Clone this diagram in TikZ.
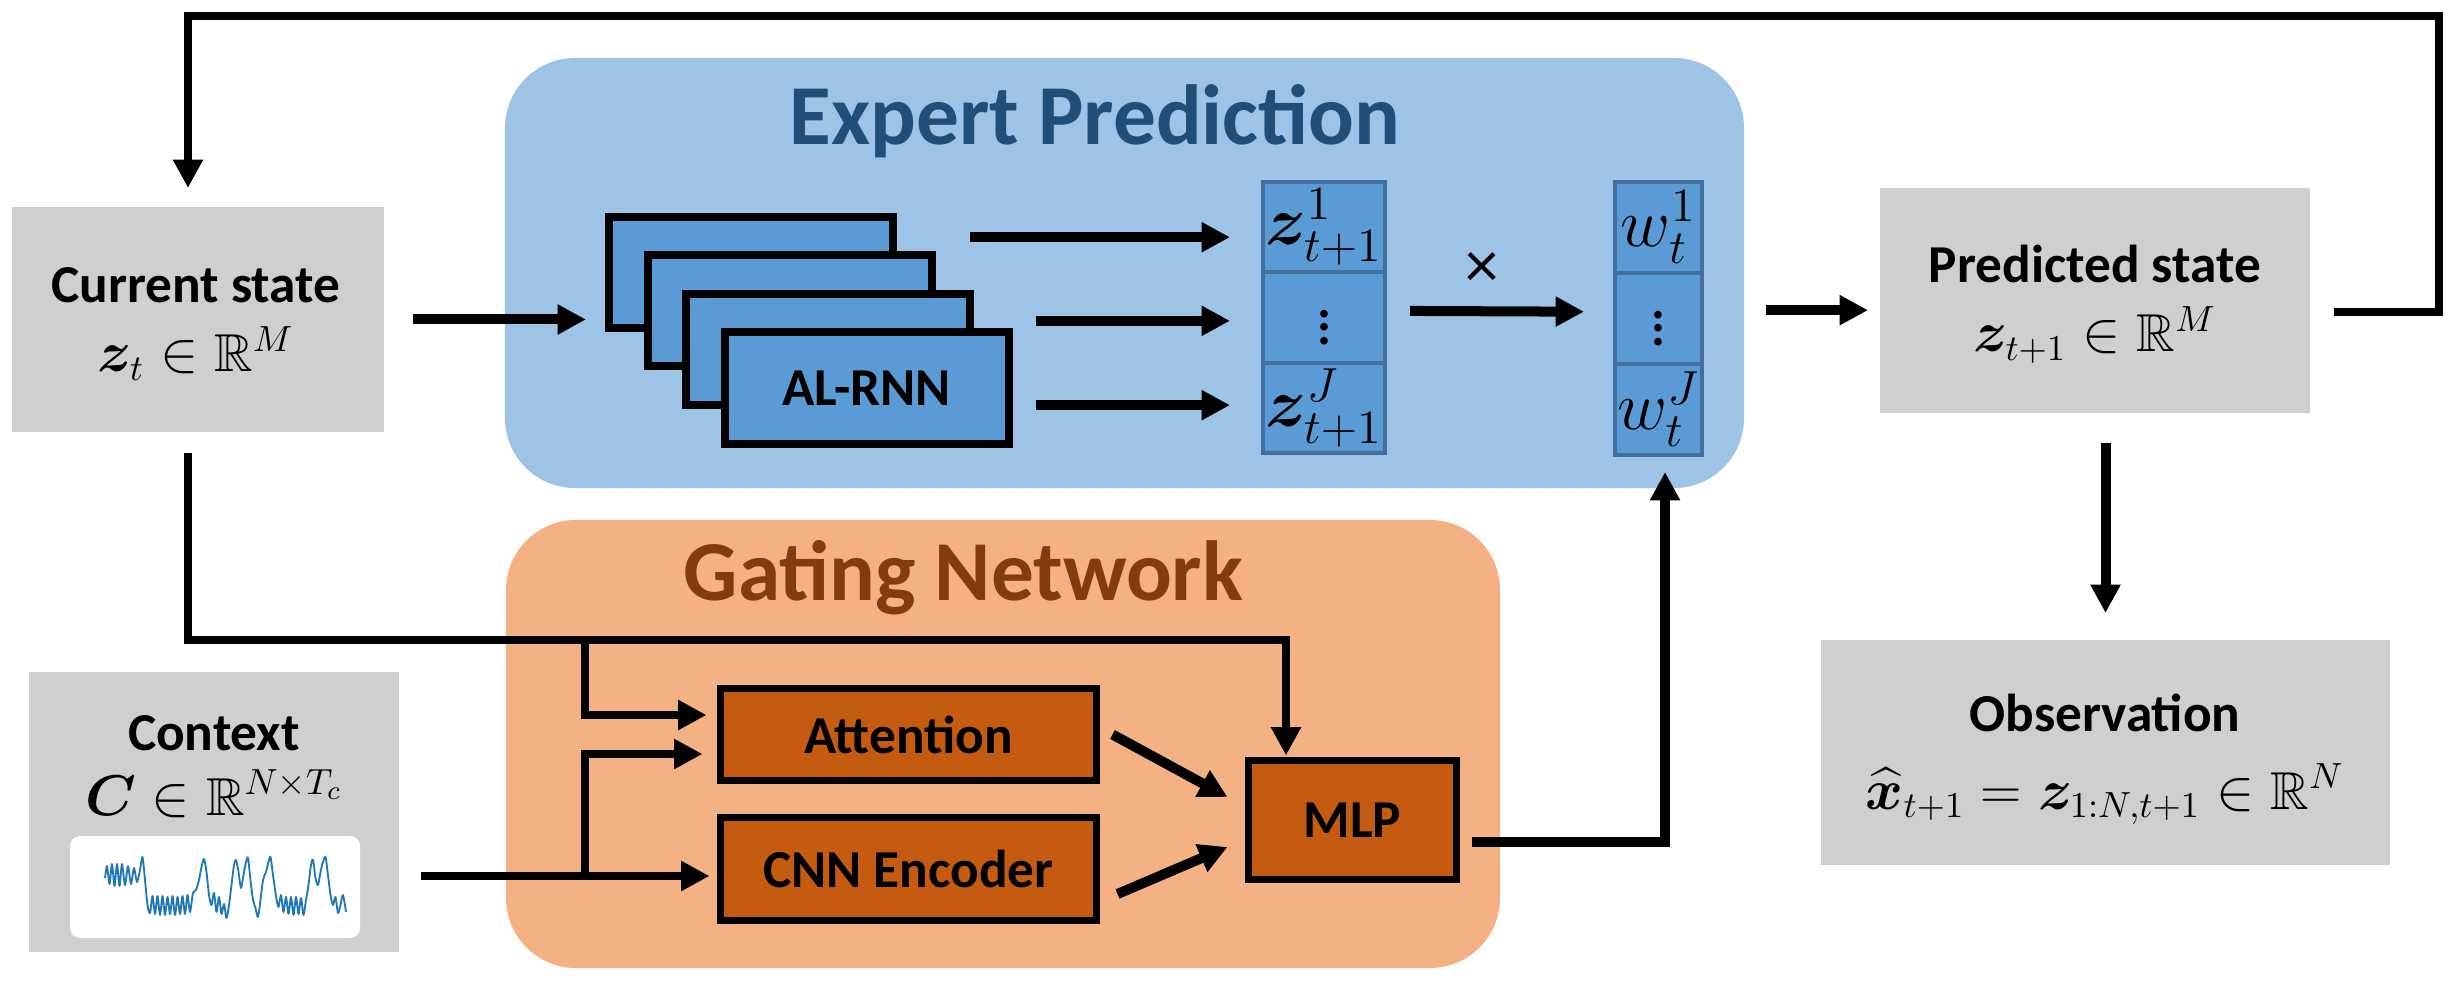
\documentclass[tikz,border=0pt]{standalone}
\usepackage{amsmath,amssymb,bm}
\usepackage{fontspec}
\setmainfont{Carlito}
\usetikzlibrary{arrows.meta}
\definecolor{grayfill}{HTML}{D0CECE}
\definecolor{regblue}{HTML}{9DC3E6}
\definecolor{boxblue}{HTML}{5B9BD5}
\definecolor{cellline}{HTML}{41719C}
\definecolor{titleblue}{HTML}{1F4E79}
\definecolor{regorange}{HTML}{F4B183}
\definecolor{boxorange}{HTML}{C55A11}
\definecolor{titleorange}{HTML}{843C0C}
\definecolor{wave}{HTML}{1F77B4}
\tikzset{
  region/.style={rounded corners=21bp, inner sep=0pt, outer sep=0pt, draw=none},
  graybox/.style={fill=grayfill, inner sep=0pt, outer sep=0pt},
  lbl/.style={font=\fontsize{16bp}{19bp}\selectfont\bfseries, inner sep=0pt, anchor=base},
  mth/.style={font=\fontsize{16bp}{19bp}\selectfont, inner sep=0pt, anchor=base},
  titletext/.style={font=\fontsize{25.6bp}{30bp}\selectfont\bfseries, inner sep=0pt, anchor=base},
  rnnbox/.style={draw=black, line width=2.4bp, fill=boxblue, inner sep=0pt, outer sep=0pt,
    minimum width=85.2bp, minimum height=33.3bp, font=\fontsize{16bp}{19bp}\selectfont\bfseries},
  zcell/.style={draw=cellline, line width=1.2bp, fill=boxblue, inner sep=0pt, outer sep=0pt,
    minimum width=36.6bp, minimum height=27.1bp, font=\fontsize{19bp}{21bp}\selectfont},
  wcell/.style={zcell, minimum width=26.1bp, minimum height=27.3bp},
  gatebox/.style={draw=black, line width=2.1bp, fill=boxorange, inner sep=0pt, outer sep=0pt,
    font=\fontsize{16bp}{19bp}\selectfont\bfseries},
  arr/.style={line width=3bp, -{Triangle[length=8.5bp, width=8.5bp]}},
  conn/.style={line width=2.5bp, -{Triangle[length=8.5bp, width=8.5bp]}},
}
\begin{document}
\begin{tikzpicture}[x=0.3bp, y=-0.3bp]
\useasboundingbox (0,0) rectangle (2459,984);
\fill[white] (0,0) rectangle (2459,984);

% regions
\node[region, fill=regblue, minimum width=371.7bp, minimum height=129bp] (ep) at (1124.5,273) {};
\node[titletext, text=titleblue] (eptitle) at (1095,145) {Expert Prediction};
\node[region, fill=regorange, minimum width=298.2bp, minimum height=134.4bp] (gn) at (1003,744) {};
\node[titletext, text=titleorange] (gntitle) at (963.5,600) {Gating Network};

% gray boxes
\node[graybox, minimum width=111.6bp, minimum height=67.5bp] (cur) at (198,319.5) {};
\node[lbl] (curT) at (196,303) {Current state};
\node[mth] (curM) at (196,372) {$\bm{z}_t \in \mathbb{R}^M$};

\node[graybox, minimum width=129bp, minimum height=67.5bp] (pred) at (2095,300.5) {};
\node[lbl] (predT) at (2095,283) {Predicted state};
\node[mth] (predM) at (2095,352) {$\bm{z}_{t+1} \in \mathbb{R}^M$};

\node[graybox, minimum width=170.7bp, minimum height=67.5bp] (obs) at (2105.5,752.5) {};
\node[lbl] (obsT) at (2105,731) {Observation};
\node[mth] (obsM) at (2105,809) {$\widehat{\bm{x}}_{t+1} = \bm{z}_{1:N,t+1} \in \mathbb{R}^N$};

\node[graybox, minimum width=111bp, minimum height=84bp] (ctx) at (214,812) {};
\node[lbl] (ctxT) at (214,750) {Context};
\node[mth] (ctxM) at (214,815) {$\bm{C} \in \mathbb{R}^{N\times T_c}$};
\node[fill=white, rounded corners=3bp, inner sep=0pt, minimum width=87bp, minimum height=30.6bp] (sig) at (215,887) {};
\draw[wave, line width=0.55bp, line join=round] plot[smooth, tension=0.45] coordinates {
 (105,878) (107,866) (109.5,884) (112,864) (114.5,886) (117,864) (119.5,886) (122,864)
 (125,885) (128,866) (131,884) (134,868) (137,882) (140,870) (142.5,857) (145,880)
 (147.5,905) (150,913) (152.5,896) (155,914) (157.5,896) (160,915) (162.5,896) (165,915)
 (167.5,897) (170,914) (172.5,896) (175,915) (177.5,897) (180,914) (182.5,896) (185,914)
 (187.5,895) (190,912) (193,893) (196,890) (199,880) (201.5,867) (204,859) (206.5,872)
 (209,895) (211.5,905) (214,893) (216.5,912) (219,897) (221.5,914) (224,904) (226.5,918)
 (229,905) (231.5,885) (234,865) (236,860) (238.5,872) (241,888) (243.5,875) (246,862)
 (248,858) (250.5,880) (253,900) (255.5,908) (258,917) (260.5,900) (263,880) (266,872)
 (268.5,862) (270.5,857) (273,875) (276,896) (278.5,907) (281,895) (283.5,912) (286,897)
 (288.5,914) (291,897) (293.5,915) (296,897) (298.5,914) (301,898) (303.5,915) (306,900)
 (308.5,885) (311,865) (313,860) (315.5,878) (318,885) (320.5,872) (323,862) (325.5,857)
 (328,875) (330.5,895) (333,905) (335.5,897) (338,913) (340.5,905) (343,895) (346,912)};

% AL-RNN stack
\node[rnnbox] (box1) at (751,272.5) {};
\node[rnnbox] (box2) at (789.5,311) {};
\node[rnnbox] (box3) at (828,349.5) {};
\node[rnnbox] (box4) at (866.5,388) {AL-RNN};

% z column
\node[zcell] (z1) at (1324,227.2) {$\bm{z}^{1}_{t+1}$};
\node[zcell] (zd) at (1324,317.5) {$\vdots$};
\node[zcell] (zJ) at (1324,407.8) {$\bm{z}^{J}_{t+1}$};
% w column
\node[wcell] (w1) at (1658.5,227.5) {$w^{1}_{t}$};
\node[wcell] (wd) at (1658.5,318.5) {$\vdots$};
\node[wcell] (wJ) at (1658.5,409.5) {$w^{J}_{t}$};
\node[font=\fontsize{20bp}{24bp}\selectfont, inner sep=0pt] (times) at (1482,270) {×};

% gating boxes
\node[gatebox, minimum width=112.8bp, minimum height=27.6bp] (att) at (908.5,734.5) {Attention};
\node[gatebox, minimum width=112.8bp, minimum height=30.9bp] (cnn) at (908.5,869) {CNN Encoder};
\node[gatebox, minimum width=62.4bp, minimum height=35.7bp] (mlp) at (1352.5,820) {MLP};

% coordinates
\coordinate (fbR) at (2439,16);
\coordinate (fbL) at (188,16);
\coordinate (g1) at (188,640);
\coordinate (g2) at (1286,640);
\coordinate (br1) at (585,640);
\coordinate (cnnin) at ([yshift=-2.1bp]cnn.west);

% connectors
\draw[conn, shorten <=7.2bp, shorten >=5.7bp] ([yshift=-3.45bp]pred.east) -| (fbR) -- (fbL) -- (fbL |- cur.north);
\draw[arr, shorten <=8.7bp, shorten >=6.9bp] (cur.east) -- (cur.east -| box1.west);
\draw[arr, shorten >=9.9bp] ([yshift=-3bp]box3.east |- z1.west) -- ([yshift=-3bp]z1.west);
\draw[arr, shorten <=8.1bp, shorten >=9.9bp] ([yshift=-1bp]box4.east |- zd.west) -- ([yshift=-1bp]zd.west);
\draw[arr, shorten <=8.1bp, shorten >=9.9bp] ([yshift=0.8bp]box4.east |- zJ.west) -- ([yshift=0.8bp]zJ.west);
\draw[arr, shorten <=7.5bp, shorten >=9.3bp] ([yshift=2bp]zd.east) -- ([yshift=2bp]wd.west);
\draw[arr, shorten <=19.2bp, shorten >=3.6bp] ([yshift=2.5bp]wd.east) -- ([yshift=2.5bp]wd.east -| pred.west);
\draw[arr, shorten <=9bp, shorten >=8.1bp] (obs.north |- pred.south) -- (obs.north);

\draw[conn, shorten <=6.3bp, shorten >=1.5bp] (fbL |- cur.south) -- (g1) -- (g2) -- (g2 |- mlp.north);
\draw[conn, shorten >=4.2bp] (br1) |- ([yshift=5.85bp]att.west);
\draw[conn, shorten <=6.6bp, shorten >=3.3bp] (ctx.east |- cnnin) -- (cnnin);
\draw[conn, shorten >=5.4bp] (br1 |- cnnin) |- ([yshift=-5.85bp]att.west);
\draw[arr] ([xshift=4.8bp]att.east) -- ([xshift=-6.3bp, yshift=6.9bp]mlp.west);
\draw[arr] ([xshift=6.3bp, yshift=-7.5bp]cnn.east) -- ([xshift=-6.3bp, yshift=-8.1bp]mlp.west);
\draw[arr, shorten <=4.5bp, shorten >=5.1bp] ([yshift=-6.6bp]mlp.east) -| ([xshift=1.95bp]wJ.south);
\end{tikzpicture}
\end{document}
